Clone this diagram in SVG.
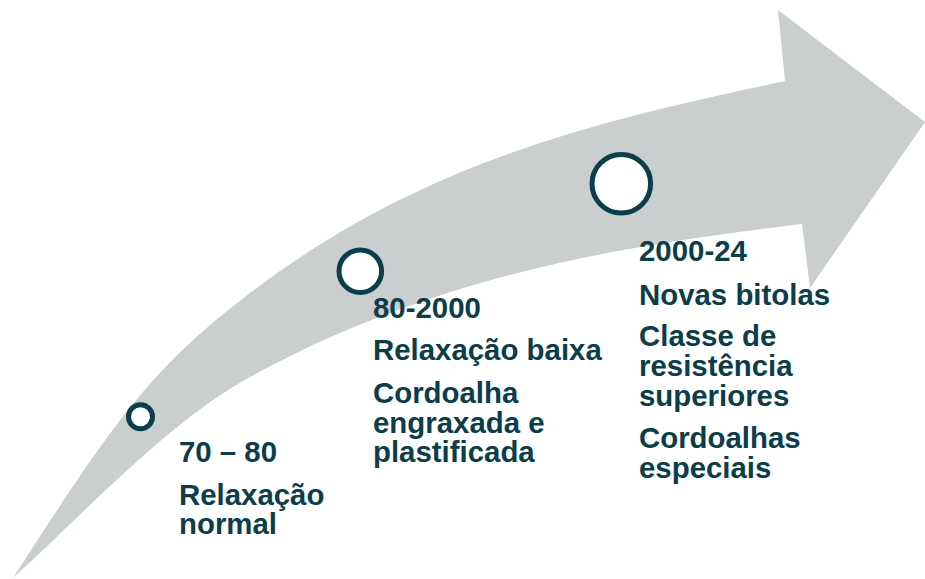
<svg xmlns="http://www.w3.org/2000/svg" width="925" height="579" viewBox="0 0 925 579">
<style>
.t{font-family:"Liberation Sans",Arial,sans-serif;font-weight:bold;font-size:29.4px;fill:#0b3d4a}
.dot{fill:#ffffff;stroke:#0b3d4a;stroke-width:5}
</style>
<rect width="925" height="579" fill="#ffffff"/>
<g id="arrow">
<path fill="#cbcecf" d="M13,578 C113,423 150,369 250,293 C430,156.2 605,120.6 785,81 L778,10 L925,122 L810,288 L802,224 C618,246.1 434,275.8 250,377 C170,421 93,504.4 13,578 Z"/>
</g>
<g id="connectors"></g>
<g id="node1">
<circle class="dot" cx="140.5" cy="416.7" r="12"/>
<text class="t" x="179" y="462">70 – 80</text>
<text class="t" x="179" y="505">Relaxação</text>
<text class="t" x="179" y="534">normal</text>
</g>
<g id="node2">
<circle class="dot" cx="360.3" cy="271.2" r="21.3"/>
<text class="t" x="373" y="318">80-2000</text>
<text class="t" x="373" y="360">Relaxação baixa</text>
<text class="t" x="373" y="403">Cordoalha</text>
<text class="t" x="373" y="433">engraxada e</text>
<text class="t" x="373" y="462">plastificada</text>
</g>
<g id="node3">
<circle class="dot" cx="621.3" cy="183.8" r="29.3"/>
<text class="t" x="639" y="261">2000-24</text>
<text class="t" x="639" y="305">Novas bitolas</text>
<text class="t" x="639" y="346">Classe de</text>
<text class="t" x="639" y="376">resistência</text>
<text class="t" x="639" y="406">superiores</text>
<text class="t" x="639" y="448">Cordoalhas</text>
<text class="t" x="639" y="478">especiais</text>
</g>
</svg>
